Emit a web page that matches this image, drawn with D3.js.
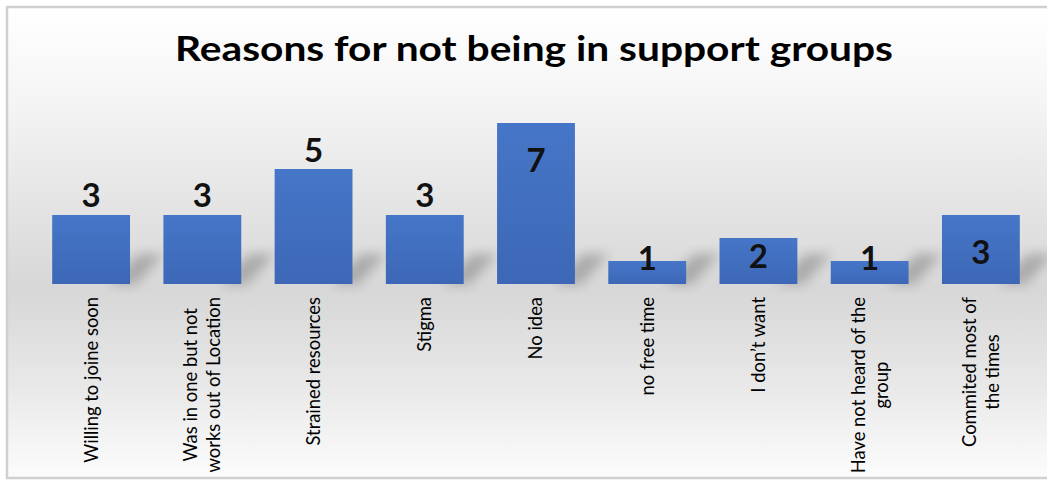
<!DOCTYPE html>
<html>
<head>
<meta charset="utf-8">
<script src="https://cdn.jsdelivr.net/npm/d3@7"></script>
<style>
  html, body { margin: 0; padding: 0; background: #ffffff; }
  svg { display: block; }
</style>
</head>
<body>
<svg id="chart" width="1047" height="483"></svg>
<script>
// ---- data ----
const title = "Reasons for not being in support groups";
const categories = [
  "Willing to joine soon",
  "Was in one but not works out of Location",
  "Strained resources",
  "Stigma",
  "No idea",
  "no free time",
  "I don’t want",
  "Have not heard of the group",
  "Commited most of the times"
];
const categoryLines = [
  ["Willing to joine soon"],
  ["Was in one but not", "works out of Location"],
  ["Strained resources"],
  ["Stigma"],
  ["No idea"],
  ["no free time"],
  ["I don’t want"],
  ["Have not heard of the", "group"],
  ["Commited most of", "the times"]
];
const values = [3, 3, 5, 3, 7, 1, 2, 1, 3];
// value-label anchor, in value units (as placed in the original)
const labelAt = [3.87, 3.87, 5.83, 3.87, 5.39, 1.13, 1.22, 1.13, 1.39];

// ---- layout ----
const W = 1047, H = 483;
const svg = d3.select("#chart");
const defs = svg.append("defs");

const bg = defs.append("linearGradient").attr("id", "bg")
  .attr("x1", 0).attr("y1", 0).attr("x2", 0).attr("y2", 1);
[[0, "#ffffff"], [0.18, "#f6f6f6"], [0.6, "#d7d7d7"], [0.8, "#e8e8e8"], [1, "#fcfcfc"]]
  .forEach(([o, c]) => bg.append("stop").attr("offset", o).attr("stop-color", c));

const barGrad = defs.append("linearGradient").attr("id", "barg")
  .attr("x1", 0).attr("y1", 0).attr("x2", 0).attr("y2", 1);
barGrad.append("stop").attr("offset", 0).attr("stop-color", "#4676c8");
barGrad.append("stop").attr("offset", 1).attr("stop-color", "#3d67b6");

const blur = defs.append("filter").attr("id", "blur")
  .attr("x", "-50%").attr("y", "-50%").attr("width", "200%").attr("height", "200%");
blur.append("feGaussianBlur").attr("stdDeviation", 6);

// frame (open on the right, as in the original crop)
svg.append("rect").attr("x", 7).attr("y", 7).attr("width", W + 20).attr("height", 471)
  .attr("fill", "url(#bg)").attr("stroke", "#d0d0d0").attr("stroke-width", 2.5);

// title
svg.append("text")
  .attr("x", 534).attr("y", 61)
  .attr("text-anchor", "middle")
  .attr("font-family", "Lato, 'Open Sans', sans-serif")
  .attr("font-weight", "bold")
  .attr("font-size", 34)
  .attr("fill", "#000")
  .attr("textLength", 718)
  .attr("lengthAdjust", "spacingAndGlyphs")
  .text(title);

const x = d3.scaleBand().domain(categories).range([35.5, 1036.5]).paddingInner(0.3).paddingOuter(0.15);
const y = d3.scaleLinear().domain([0, 7]).range([284, 123]);

const g = svg.append("g");

// shadows
g.selectAll("path.shadow").data(categories).join("path")
  .attr("class", "shadow")
  .attr("d", (d, i) => {
    const x1 = x(d) + x.bandwidth();
    const base = y(0);
    const h = Math.min(30, y(0) - y(values[i]) + 8);
    return `M${x1 - 20},${base} L${x1 + 6},${base} L${x1 + 34},${base - h} L${x1 + 8},${base - h} Z`;
  })
  .attr("fill", "#000").attr("opacity", 0.22)
  .attr("filter", "url(#blur)");

// bars
g.selectAll("rect.bar").data(categories).join("rect")
  .attr("class", "bar")
  .attr("x", d => x(d))
  .attr("width", x.bandwidth())
  .attr("y", (d, i) => y(values[i]))
  .attr("height", (d, i) => y(0) - y(values[i]))
  .attr("fill", "url(#barg)");

// value labels
g.selectAll("text.val").data(categories).join("text")
  .attr("class", "val")
  .attr("x", d => x(d) + x.bandwidth() / 2)
  .attr("y", (d, i) => y(labelAt[i]))
  .attr("dy", "0.36em")
  .attr("text-anchor", "middle")
  .attr("font-family", "Lato, 'Open Sans', sans-serif")
  .attr("font-weight", "bold")
  .attr("font-size", 33)
  .attr("fill", "#111")
  .text((d, i) => values[i]);

// category labels (rotated)
const labelTop = 297;
const lineGap = 23;
categoryLines.forEach((lines, i) => {
  const cx = x(categories[i]) + x.bandwidth() / 2;
  const lg = g.append("g").attr("transform", `translate(${cx},${labelTop}) rotate(-90)`);
  const texts = lines.map((ln, j) => lg.append("text")
    .attr("font-family", "Lato, 'Open Sans', sans-serif")
    .attr("font-size", 18.4)
    .attr("fill", "#000")
    .attr("text-anchor", "middle")
    .attr("y", (j - (lines.length - 1) / 2) * lineGap)
    .attr("dy", "0.35em")
    .text(ln));
  const maxW = d3.max(texts, t => t.node().getComputedTextLength());
  texts.forEach(t => t.attr("x", -maxW / 2));
});
</script>
</body>
</html>
